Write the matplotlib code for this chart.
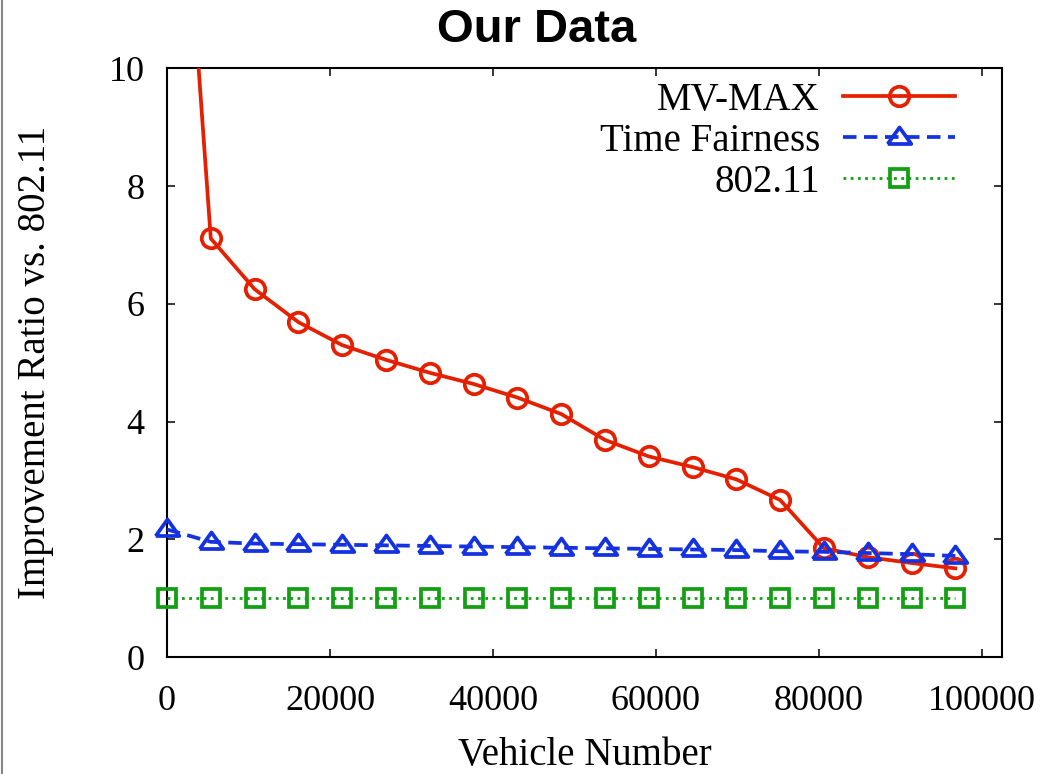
import matplotlib
matplotlib.use("Agg")
import matplotlib.pyplot as plt
from matplotlib.lines import Line2D

# data
vehicles = [0, 5376, 10752, 16128, 21504, 26880, 32256, 37632, 43008, 48384,
            53760, 59136, 64512, 69888, 75264, 80640, 86016, 91392, 96768]
mv_max = [17.5, 7.11, 6.25, 5.69, 5.30, 5.05, 4.83, 4.64, 4.41, 4.13,
          3.69, 3.41, 3.23, 3.02, 2.67, 1.85, 1.70, 1.60, 1.51]
time_fair = [2.17, 1.96, 1.93, 1.92, 1.91, 1.90, 1.89, 1.88, 1.87, 1.86,
             1.85, 1.84, 1.83, 1.82, 1.80, 1.79, 1.77, 1.75, 1.72]
dot11 = [1.0] * 19

labels = ["MV-MAX", "Time Fairness", "802.11"]
x_ticks = [0, 20000, 40000, 60000, 80000, 100000]
y_ticks = [0, 2, 4, 6, 8, 10]

red = "#e42000"
blue = "#1432e0"
green = "#12a012"

plt.rcParams['font.family'] = ['Liberation Serif', 'DejaVu Serif']

fig = plt.figure(figsize=(10.47, 7.74), dpi=100)
ax = fig.add_axes([0.1595, 0.1508, 0.7972, 0.761])

tri = [(-1, -0.55), (1, -0.55), (0, 0.85), (-1, -0.55)]

ax.plot(vehicles, mv_max, color=red, lw=2.7, marker='o', ms=14, mew=2.7,
        mfc='none', label=labels[0], zorder=3)
ax.plot(vehicles, time_fair, color=blue, lw=2.7, dashes=(3.6, 2), marker=tri,
        ms=17, mew=2.7, mfc='none', label=labels[1], clip_on=False, zorder=3)
ax.plot(vehicles, dot11, color=green, lw=2.0, dashes=(1, 1.6), marker='s',
        ms=13, mew=2.7, mfc='none', label=labels[2], clip_on=False, zorder=3)

ax.set_xlim(0, 102450)
ax.set_ylim(0, 10)
ax.set_xticks(x_ticks)
ax.set_yticks(y_ticks)
ax.set_xticklabels([str(t) for t in x_ticks])
ax.set_yticklabels([str(t) for t in y_ticks])
ax.tick_params(direction='in', length=6, width=1.1, top=True, right=True,
               labelsize=26, pad=16)
ax.tick_params(axis='x', pad=20)
for s in ax.spines.values():
    s.set_linewidth(1.5)

ax.set_xlabel("Vehicle Number", fontsize=28, va='center')
ax.xaxis.set_label_coords(0.5, -0.166)
ax.set_ylabel("Improvement Ratio vs. 802.11", fontsize=28, va='center')
ax.yaxis.set_label_coords(-0.158, 0.5)

fig.text(0.513, 0.961, "Our Data", fontsize=34, fontweight='bold',
         family=['Liberation Sans', 'DejaVu Sans'], ha='center', va='center')

leg = ax.legend(loc='upper right', bbox_to_anchor=(955 / 1047, 1 - 82 / 774),
                bbox_transform=fig.transFigure, frameon=False, markerfirst=False,
                fontsize=28, handlelength=2.88, handletextpad=0.59,
                labelspacing=0.1, borderpad=0, borderaxespad=0, numpoints=1)

# thin grey edge on the left of the screenshot
fig.add_artist(Line2D([0.0015, 0.0015], [0, 1], transform=fig.transFigure,
                      color='#888888', lw=1.5))

fig.savefig("out.png", dpi=100)
